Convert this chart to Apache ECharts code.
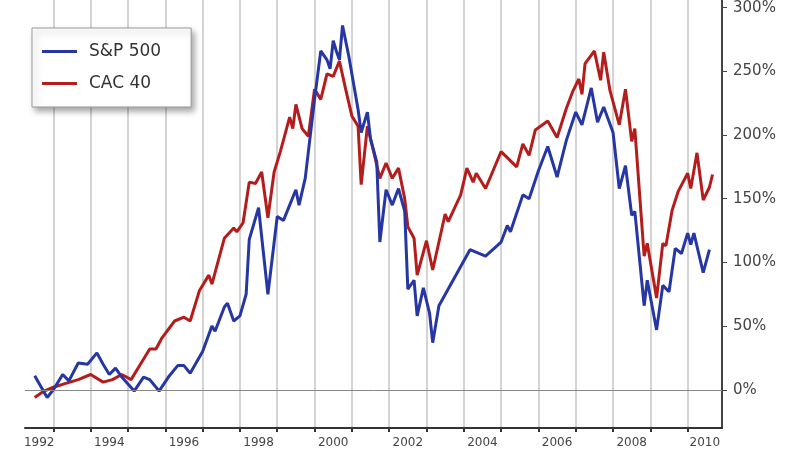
<!DOCTYPE html>
<html>
<head>
<meta charset="utf-8">
<script src="https://cdn.jsdelivr.net/npm/echarts@6/dist/echarts.min.js"></script>
<style>
  html, body { margin: 0; padding: 0; background: #fff; }
  #chart { width: 800px; height: 449px; }
</style>
</head>
<body>
<div id="chart"></div>
<script>
// cumulative change since 1992, in %
const spDates = ['1992-07', '1992-11', '1993-01', '1993-04', '1993-06', '1993-09', '1993-12',
  '1994-03', '1994-05', '1994-07', '1994-09', '1994-11', '1995-03', '1995-06', '1995-08', '1995-11',
  '1996-02', '1996-05', '1996-07', '1996-09', '1997-01', '1997-04', '1997-05', '1997-08', '1997-09',
  '1997-11', '1998-01', '1998-03', '1998-04', '1998-07', '1998-08', '1998-10', '1999-01', '1999-03',
  '1999-05', '1999-07', '1999-08', '1999-10', '2000-01', '2000-03', '2000-05', '2000-06', '2000-07',
  '2000-08', '2000-09', '2000-10', '2000-12', '2001-03', '2001-04', '2001-06', '2001-07', '2001-09',
  '2001-10', '2001-12', '2002-02', '2002-04', '2002-06', '2002-07', '2002-09', '2002-10', '2002-12',
  '2003-02', '2003-03', '2003-05', '2003-10', '2004-03', '2004-08', '2005-01', '2005-03', '2005-04',
  '2005-08', '2005-10', '2006-01', '2006-04', '2006-07', '2006-10', '2007-01', '2007-03', '2007-06',
  '2007-08', '2007-10', '2008-01', '2008-03', '2008-05', '2008-07', '2008-08', '2008-11', '2008-12',
  '2009-03', '2009-05', '2009-07', '2009-09', '2009-11', '2010-01', '2010-02', '2010-03', '2010-06',
  '2010-08'];
const spValues = [11, -6, 0, 12, 7, 21, 20,
  29, 20, 12, 17, 10, -1, 10, 8, -1,
  10, 19, 19, 13, 30, 50, 46, 65, 68,
  54, 58, 75, 118, 143, 120, 75, 136, 133,
  145, 157, 145, 166, 228, 266, 259, 252, 274,
  266, 259, 286, 262, 220, 202, 218, 197, 179,
  116, 157, 145, 158, 140, 79, 86, 58, 80,
  60, 37, 66, 88, 110, 105, 116, 129, 124,
  153, 150, 172, 191, 167, 196, 218, 208, 237,
  210, 222, 202, 158, 176, 137, 140, 66, 86,
  47, 82, 77, 111, 107, 123, 114, 123, 92,
  110];

const cacDates = ['1992-07', '1992-10', '1993-01', '1993-05', '1993-09', '1994-01', '1994-05',
  '1994-08', '1994-11', '1995-02', '1995-05', '1995-08', '1995-10', '1995-12', '1996-04', '1996-07',
  '1996-09', '1996-12', '1997-03', '1997-04', '1997-08', '1997-11', '1997-12', '1998-02', '1998-04',
  '1998-06', '1998-08', '1998-10', '1998-12', '1999-02', '1999-05', '1999-06', '1999-07', '1999-09',
  '1999-11', '2000-01', '2000-03', '2000-05', '2000-07', '2000-09', '2000-11', '2001-01', '2001-03',
  '2001-04', '2001-06', '2001-08', '2001-10', '2001-12', '2002-02', '2002-04', '2002-06', '2002-07',
  '2002-09', '2002-10', '2003-01', '2003-03', '2003-07', '2003-08', '2003-12', '2004-02', '2004-04',
  '2004-05', '2004-08', '2005-01', '2005-06', '2005-08', '2005-10', '2005-12', '2006-04', '2006-07',
  '2006-10', '2006-12', '2007-02', '2007-03', '2007-04', '2007-07', '2007-09', '2007-10', '2007-12',
  '2008-03', '2008-05', '2008-07', '2008-08', '2008-11', '2008-12', '2009-03', '2009-05', '2009-06',
  '2009-08', '2009-10', '2010-01', '2010-02', '2010-04', '2010-06', '2010-08', '2010-09'];
const cacValues = [-6, -1, 2, 5, 8, 12, 6,
  8, 12, 8, 20, 32, 32, 41, 54, 57,
  54, 78, 90, 83, 119, 127, 124, 131, 163,
  162, 171, 135, 171, 187, 214, 205, 224, 205,
  199, 236, 228, 248, 246, 258, 236, 215, 207,
  161, 207, 187, 166, 178, 166, 174, 150, 128,
  119, 90, 117, 94, 138, 132, 153, 174, 163,
  170, 158, 187, 175, 193, 184, 204, 211, 198,
  221, 234, 244, 232, 256, 266, 243, 265, 235,
  208, 236, 195, 205, 105, 115, 72, 115, 113,
  141, 156, 170, 158, 186, 149, 159, 169];

const yearTicks = [1993, 1994, 1995, 1996, 1997, 1998, 1999, 2000, 2001, 2002,
  2003, 2004, 2005, 2006, 2007, 2008, 2009, 2010];
const yearLabels = [1992.62, 1994.5, 1996.5, 1998.5, 2000.5, 2002.5, 2004.5, 2006.5, 2008.5, 2010.46];
const pctTicks = [0, 50, 100, 150, 200, 250, 300];

function toYear(s) {
  const [y, m] = s.split('-').map(Number);
  return y + (m - 1) / 12;
}

const chart = echarts.init(document.getElementById('chart'));
const font = 'DejaVu Sans';

const option = {
  animation: false,
  grid: { left: 25, right: 78, top: 0, bottom: 19 },
  legend: {
    data: ['S&P 500', 'CAC 40'],
    orient: 'vertical',
    left: 32,
    top: 28,
    icon: 'rect',
    padding: [15, 30, 15, 10],
    itemWidth: 35,
    itemHeight: 3,
    itemGap: 15,
    backgroundColor: '#fff',
    borderColor: '#999',
    borderWidth: 1,
    shadowBlur: 6,
    shadowColor: 'rgba(0,0,0,0.35)',
    shadowOffsetX: 3,
    shadowOffsetY: 4,
    textStyle: { fontFamily: font, fontSize: 17, color: '#333', padding: [0, 0, 0, 7] }
  },
  xAxis: {
    type: 'value',
    min: 1992.24,
    max: 2010.92,
    axisLine: { onZero: false, lineStyle: { color: '#333', width: 2 } },
    axisTick: { customValues: yearTicks, length: 4, lineStyle: { color: '#333', width: 2 } },
    axisLabel: {
      customValues: yearLabels,
      formatter: v => String(Math.floor(v)),
      margin: 9,
      fontFamily: font,
      fontSize: 12,
      color: '#444'
    },
    splitLine: { show: true, lineStyle: { color: '#d4d4d4', width: 2 } }
  },
  yAxis: {
    type: 'value',
    position: 'right',
    min: -30,
    max: 306,
    axisLine: { show: true, lineStyle: { color: '#444', width: 2 } },
    axisTick: { show: true, customValues: pctTicks, length: 5, lineStyle: { color: '#444' } },
    axisLabel: {
      customValues: pctTicks,
      formatter: v => v + '%',
      margin: 11,
      fontFamily: font,
      fontSize: 15,
      color: '#444'
    },
    splitLine: { show: false }
  },
  series: [
    {
      name: 'CAC 40',
      type: 'line',
      symbol: 'none',
      color: '#b51c1c',
      lineStyle: { width: 3 },
      data: cacDates.map((d, i) => [toYear(d), cacValues[i]]),
      markLine: {
        silent: true,
        symbol: 'none',
        label: { show: false },
        lineStyle: { color: '#888', width: 1, type: 'solid' },
        data: [{ yAxis: 0 }]
      },
      z: 2
    },
    {
      name: 'S&P 500',
      type: 'line',
      symbol: 'none',
      color: '#2636a3',
      lineStyle: { width: 3 },
      data: spDates.map((d, i) => [toYear(d), spValues[i]]),
      z: 3
    }
  ]
};

chart.setOption(option);
</script>
</body>
</html>
